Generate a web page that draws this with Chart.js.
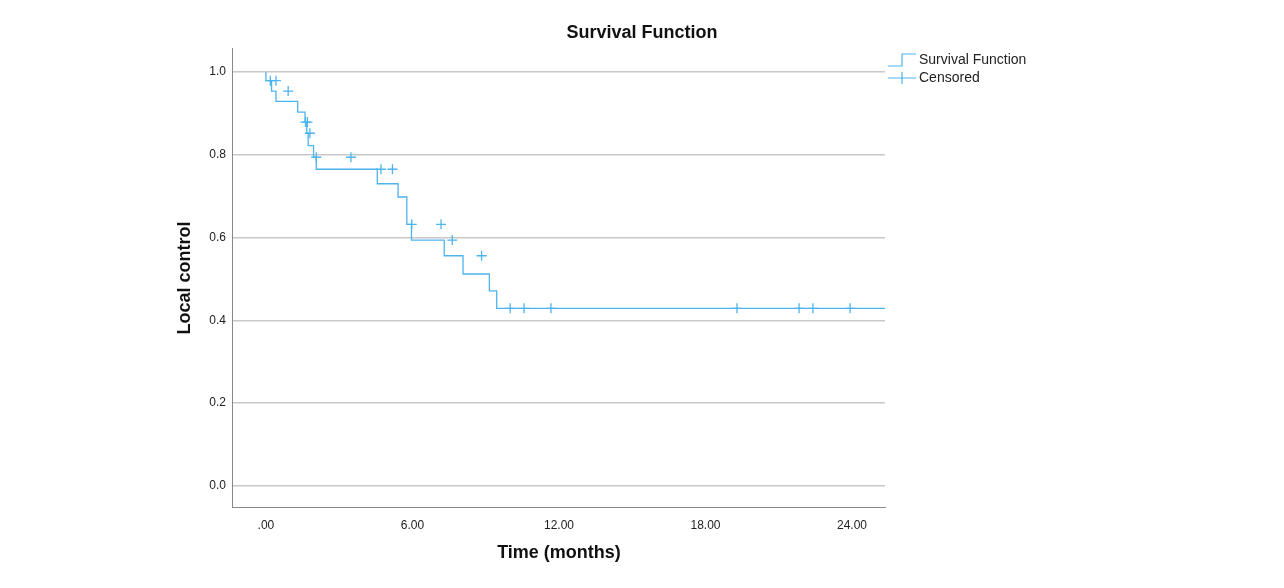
<!DOCTYPE html>
<html>
<head>
<meta charset="utf-8">
<script src="https://cdn.jsdelivr.net/npm/chart.js@4"></script>
<style>
body { margin: 0; background: #fff; }
#wrap { width: 1284px; height: 588px; }
</style>
</head>
<body>
<div id="wrap"><canvas id="km"></canvas></div>
<script>
"use strict";

// time (months), survival after the event
const steps = [
    [0, 1.0], [0.23, 0.979], [0.41, 0.954], [1.30, 0.929], [1.60, 0.903], [1.67, 0.879],
    [1.73, 0.852], [1.95, 0.822], [2.06, 0.794], [4.56, 0.765], [5.41, 0.730], [5.77, 0.698],
    [5.96, 0.632], [7.30, 0.594], [8.07, 0.556], [9.15, 0.512], [9.45, 0.471], [9.89, 0.429],
    [25.35, 0.429]
];
const censored = [
    [0.18, 0.979], [0.41, 0.979], [0.91, 0.954], [1.62, 0.879], [1.70, 0.879], [1.80, 0.852],
    [2.06, 0.794], [3.48, 0.794], [4.71, 0.765], [5.18, 0.765], [5.97, 0.632], [7.17, 0.632],
    [7.63, 0.594], [8.83, 0.556], [10.0, 0.429], [10.57, 0.429], [11.67, 0.429], [19.29, 0.429],
    [21.83, 0.429], [22.40, 0.429], [23.92, 0.429]
];
const blue = '#4db4ee';

const extras = {
    id: 'extras',
    afterDraw(chart) {
        const ctx = chart.ctx;
        ctx.save();
        ctx.fillStyle = '#111';
        ctx.font = 'bold 18px "Liberation Sans", Arial';
        ctx.textAlign = 'center';
        ctx.textBaseline = 'middle';
        ctx.fillText('Survival Function', 642, 33);
        ctx.fillText('Time (months)', 559, 553);
        ctx.translate(185, 278);
        ctx.rotate(-Math.PI / 2);
        ctx.fillText('Local control', 0, 0);
        ctx.restore();

        // legend
        ctx.save();
        ctx.strokeStyle = blue;
        ctx.lineWidth = 1.2;
        ctx.beginPath();
        ctx.moveTo(888, 66); ctx.lineTo(902, 66); ctx.lineTo(902, 54); ctx.lineTo(916, 54);
        ctx.moveTo(888, 78); ctx.lineTo(916, 78);
        ctx.moveTo(902, 72); ctx.lineTo(902, 84);
        ctx.stroke();
        ctx.fillStyle = '#222';
        ctx.font = '14px "Liberation Sans", Arial';
        ctx.textBaseline = 'middle';
        ctx.fillText('Survival Function', 919, 60);
        ctx.fillText('Censored', 919, 78);
        ctx.restore();
    }
};

new Chart(document.querySelector('#km').getContext('2d'), {
    type: 'scatter',
    data: {
        datasets: [{
            type: 'line',
            data: steps.map(([x, y]) => ({ x, y })),
            stepped: 'after',
            borderColor: blue,
            borderWidth: 1.3,
            pointRadius: 0,
            fill: false
        }, {
            data: censored.map(([x, y]) => ({ x, y })),
            pointStyle: 'cross',
            pointRadius: 5,
            borderColor: blue,
            borderWidth: 1.3,
            backgroundColor: blue
        }]
    },
    options: {
        responsive: true,
        maintainAspectRatio: false,
        animation: false,
        layout: { padding: { top: 48, right: 399, left: 0, bottom: 0 } },
        plugins: { legend: { display: false }, tooltip: { enabled: false } },
        scales: {
            x: {
                type: 'linear',
                min: -1.39, max: 25.35,
                afterBuildTicks(axis) { axis.ticks = [0, 6, 12, 18, 24].map(v => ({ value: v })); },
                afterFit(axis) { axis.height = 81; },
                ticks: {
                    color: '#222', font: { size: 12, family: '"Liberation Sans", Arial' }, padding: 6,
                    callback: v => v === 0 ? '.00' : v.toFixed(2)
                },
                grid: { display: false, drawTicks: true, tickLength: 5 },
                border: { color: '#888' }
            },
            y: {
                min: -0.051, max: 1.058,
                afterBuildTicks(axis) { axis.ticks = [0, 0.2, 0.4, 0.6, 0.8, 1.0].map(v => ({ value: v })); },
                afterFit(axis) { axis.width = 232; },
                ticks: {
                    color: '#222', font: { size: 12, family: '"Liberation Sans", Arial' }, padding: 6,
                    callback: v => v.toFixed(1)
                },
                grid: { color: '#c8c8c8', lineWidth: 1.5, drawTicks: false },
                border: { color: '#888' }
            }
        }
    },
    plugins: [extras]
});
</script>
</body>
</html>
